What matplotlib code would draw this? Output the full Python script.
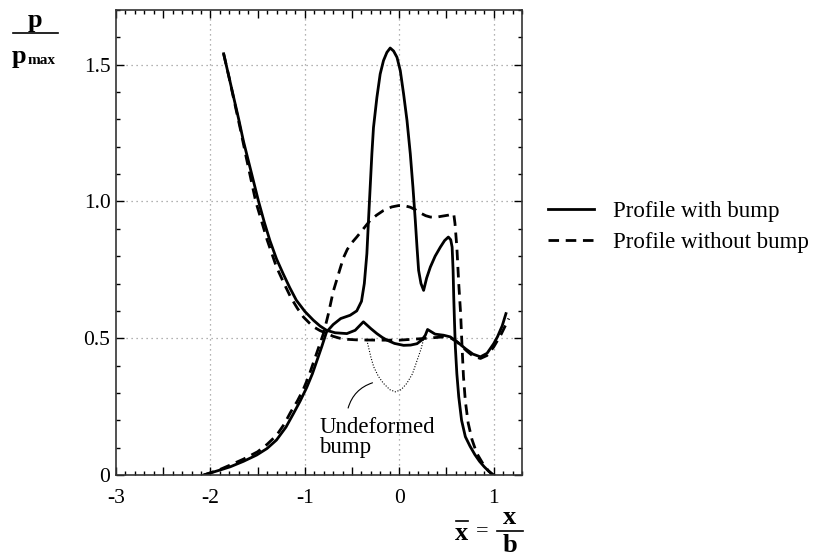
import matplotlib
matplotlib.use("Agg")
import matplotlib.pyplot as plt
from matplotlib.ticker import MultipleLocator, FuncFormatter
from matplotlib.lines import Line2D

plt.rcParams['font.family'] = ['Liberation Serif', 'DejaVu Serif']

# film shape, profile with bump
hx_bump = [-1.86, -1.81, -1.76, -1.70, -1.65, -1.57, -1.49, -1.43, -1.37, -1.30, -1.23, -1.16,
           -1.09, -1.0, -0.91, -0.84, -0.77, -0.68, -0.555, -0.467, -0.38, -0.30, -0.237, -0.18,
           -0.13, -0.05, 0.046, 0.12, 0.188, 0.24, 0.276, 0.30, 0.38, 0.47, 0.54, 0.62, 0.70,
           0.78, 0.86, 0.93, 1.0, 1.04, 1.09, 1.13]
hy_bump = [1.54, 1.465, 1.39, 1.30, 1.22, 1.11, 1.0, 0.925, 0.857, 0.79, 0.736, 0.685,
           0.639, 0.598, 0.566, 0.545, 0.529, 0.52, 0.517, 0.529, 0.56, 0.535, 0.517, 0.503,
           0.493, 0.481, 0.474, 0.475, 0.48, 0.494, 0.511, 0.532, 0.515, 0.511, 0.505, 0.485, 0.462,
           0.442, 0.432, 0.445, 0.48, 0.505, 0.545, 0.59]

# film shape, profile without bump
hx_flat = [-1.86, -1.80, -1.75, -1.68, -1.62, -1.57, -1.52, -1.46, -1.40, -1.35, -1.30, -1.22,
           -1.15, -1.08, -1.016, -0.95, -0.90, -0.84, -0.77, -0.70, -0.63, -0.55, -0.45, -0.2,
           0.0, 0.26, 0.47, 0.55, 0.61, 0.67, 0.72, 0.78, 0.86, 0.93, 1.0, 1.08, 1.16]
hy_flat = [1.54, 1.45, 1.37, 1.26, 1.16, 1.08, 1.0, 0.93, 0.86, 0.81, 0.76, 0.70,
           0.65, 0.61, 0.578, 0.555, 0.54, 0.528, 0.518, 0.507, 0.50, 0.496, 0.494, 0.493,
           0.493, 0.499, 0.505, 0.50, 0.487, 0.468, 0.452, 0.435, 0.426, 0.437, 0.468, 0.515, 0.572]

# pressure, profile with bump
px_bump = [-2.07, -1.9, -1.79, -1.65, -1.51, -1.40, -1.30, -1.20, -1.12, -1.05, -0.98, -0.92,
           -0.87, -0.82, -0.77, -0.70, -0.62, -0.52, -0.45, -0.40, -0.37, -0.343, -0.326, -0.308,
           -0.29, -0.273, -0.237, -0.202, -0.167, -0.131, -0.096, -0.06, -0.024, 0.011, 0.046,
           0.082, 0.117, 0.145, 0.17, 0.188, 0.205, 0.23, 0.258, 0.29, 0.329, 0.38, 0.435, 0.48,
           0.52, 0.545, 0.56, 0.57, 0.577, 0.585, 0.594, 0.61, 0.63, 0.66, 0.70, 0.75, 0.80, 0.85,
           0.90, 0.95, 1.0]
py_bump = [0.0, 0.018, 0.03, 0.05, 0.073, 0.097, 0.128, 0.175, 0.225, 0.27, 0.32, 0.37,
           0.42, 0.47, 0.523, 0.55, 0.572, 0.584, 0.60, 0.635, 0.70, 0.809, 0.93, 1.052,
           1.174, 1.27, 1.38, 1.466, 1.515, 1.545, 1.561, 1.55, 1.527, 1.478, 1.393,
           1.296, 1.174, 1.052, 0.93, 0.833, 0.748, 0.70, 0.675, 0.72, 0.76, 0.80, 0.833, 0.857,
           0.87, 0.86, 0.833, 0.75, 0.651, 0.56, 0.468, 0.37, 0.286, 0.20, 0.14, 0.105, 0.075, 0.05,
           0.03, 0.013, 0.0]

# pressure, profile without bump
px_flat = [-2.07, -1.9, -1.8, -1.65, -1.5, -1.4, -1.3, -1.22, -1.15, -1.08, -1.02, -0.96, -0.9,
           -0.85, -0.8, -0.75, -0.70, -0.626, -0.59, -0.55, -0.50, -0.45, -0.38, -0.31, -0.24,
           -0.167, -0.08, -0.007, 0.05, 0.117, 0.17, 0.223, 0.28, 0.33, 0.40, 0.45, 0.52, 0.577,
           0.59, 0.61, 0.63, 0.65, 0.665, 0.68, 0.70, 0.73, 0.77, 0.82, 0.88, 0.94, 0.99]
py_flat = [0.0, 0.02, 0.035, 0.058, 0.085, 0.112, 0.145, 0.185, 0.23, 0.27, 0.31, 0.36, 0.42,
           0.47, 0.52, 0.59, 0.67, 0.755, 0.795, 0.825, 0.85, 0.87, 0.90, 0.93, 0.95,
           0.967, 0.98, 0.985, 0.985, 0.979, 0.97, 0.958, 0.948, 0.943, 0.943, 0.946, 0.95, 0.955,
           0.92, 0.833, 0.70, 0.59, 0.47, 0.36, 0.27, 0.19, 0.13, 0.08, 0.045, 0.017, 0.0]

# undeformed bump
bx = [-0.343, -0.30, -0.27, -0.22, -0.167, -0.10, -0.04, 0.02, 0.08, 0.14, 0.19, 0.23, 0.26]
by = [0.493, 0.43, 0.395, 0.36, 0.335, 0.312, 0.304, 0.312, 0.335, 0.37, 0.42, 0.46, 0.499]

fig = plt.figure(figsize=(8.24, 5.58), dpi=100)
ax = fig.add_axes([116/824, 1-475/558, 406/824, 465/558])

lw = 2.0
dash = (3.8, 2.4)
ax.plot(hx_bump, hy_bump, color='black', lw=lw)
ax.plot(px_bump, py_bump, color='black', lw=lw)
ax.plot(hx_flat, hy_flat, color='black', lw=lw, dashes=dash)
ax.plot(px_flat, py_flat, color='black', lw=lw, dashes=dash)
ax.plot(bx, by, color='black', lw=0.8, ls=(0, (1, 1.5)))

ax.set_xlim(-3, 1.3)
ax.set_ylim(0, 1.7)

for gx in [-2, -1, 0, 1]:
    ax.axvline(gx, color='#999999', lw=0.9, ls=(0, (1, 3)), zorder=0)
for gy in [0.5, 1.0, 1.5]:
    ax.axhline(gy, color='#999999', lw=0.9, ls=(0, (1, 3)), zorder=0)

ax.xaxis.set_major_locator(MultipleLocator(0.5))
ax.xaxis.set_minor_locator(MultipleLocator(0.1))
ax.xaxis.set_major_formatter(FuncFormatter(lambda v, p: '%d' % round(v) if abs(v - round(v)) < 1e-6 else ''))
ax.yaxis.set_major_locator(MultipleLocator(0.5))
ax.yaxis.set_minor_locator(MultipleLocator(0.1))
ax.yaxis.set_major_formatter(FuncFormatter(lambda v, p: '0' if v == 0 else '%.1f' % v))
ax.tick_params(which='both', direction='in', top=True, right=True, labelsize=15.5, width=1)
ax.tick_params(which='major', length=6)
ax.tick_params(which='minor', length=3)
ax.tick_params(axis='x', pad=10)
ax.tick_params(axis='y', pad=4)
for s in ax.spines.values():
    s.set_linewidth(1.2)
    s.set_color('#333333')

# annotation for the bump
ax.annotate('', xy=(-0.255, 0.34), xytext=(-0.549, 0.235),
            arrowprops=dict(arrowstyle='-', lw=0.8, color='black',
                            connectionstyle='arc3,rad=-0.3'))
ax.text(-0.849, 0.153, 'Undeformed', fontsize=16.5, va='baseline', ha='left')
ax.text(-0.849, 0.080, 'bump', fontsize=16.5, va='baseline', ha='left')

# y label p / p_max
fig.text(35/824, 1-21/558, 'p', fontsize=19, fontweight='bold', ha='center', va='center')
fig.add_artist(Line2D([13/824, 58/824], [1-33/558, 1-33/558], color='black', lw=1.2))
fig.text(12/824, 1-56/558, 'p', fontsize=19, fontweight='bold', ha='left', va='center')
fig.text(28/824, 1-60/558, 'max', fontsize=11, fontweight='bold', ha='left', va='center')

# x label xbar = x / b
fig.text(462/824, 1-533/558, 'x', fontsize=19, fontweight='bold', ha='center', va='center')
fig.add_artist(Line2D([456/824, 468/824], [1-521/558, 1-521/558], color='black', lw=1.2))
fig.text(482/824, 1-532/558, '=', fontsize=16, ha='center', va='center')
fig.text(510/824, 1-517/558, 'x', fontsize=19, fontweight='bold', ha='center', va='center')
fig.add_artist(Line2D([497/824, 523/824], [1-531/558, 1-531/558], color='black', lw=1.2))
fig.text(510/824, 1-546/558, 'b', fontsize=19, fontweight='bold', ha='center', va='center')

handles = [Line2D([], [], color='black', lw=lw),
           Line2D([], [], color='black', lw=lw, dashes=dash)]
ax.legend(handles, ['Profile with bump', 'Profile without bump'],
          bbox_to_anchor=(548/824, 1-201/558), bbox_transform=fig.transFigure,
          loc='upper left', frameon=False, borderpad=0, borderaxespad=0,
          fontsize=16.5, handlelength=2.0, handletextpad=0.85, labelspacing=0.45)

fig.savefig('out.png', dpi=100)
